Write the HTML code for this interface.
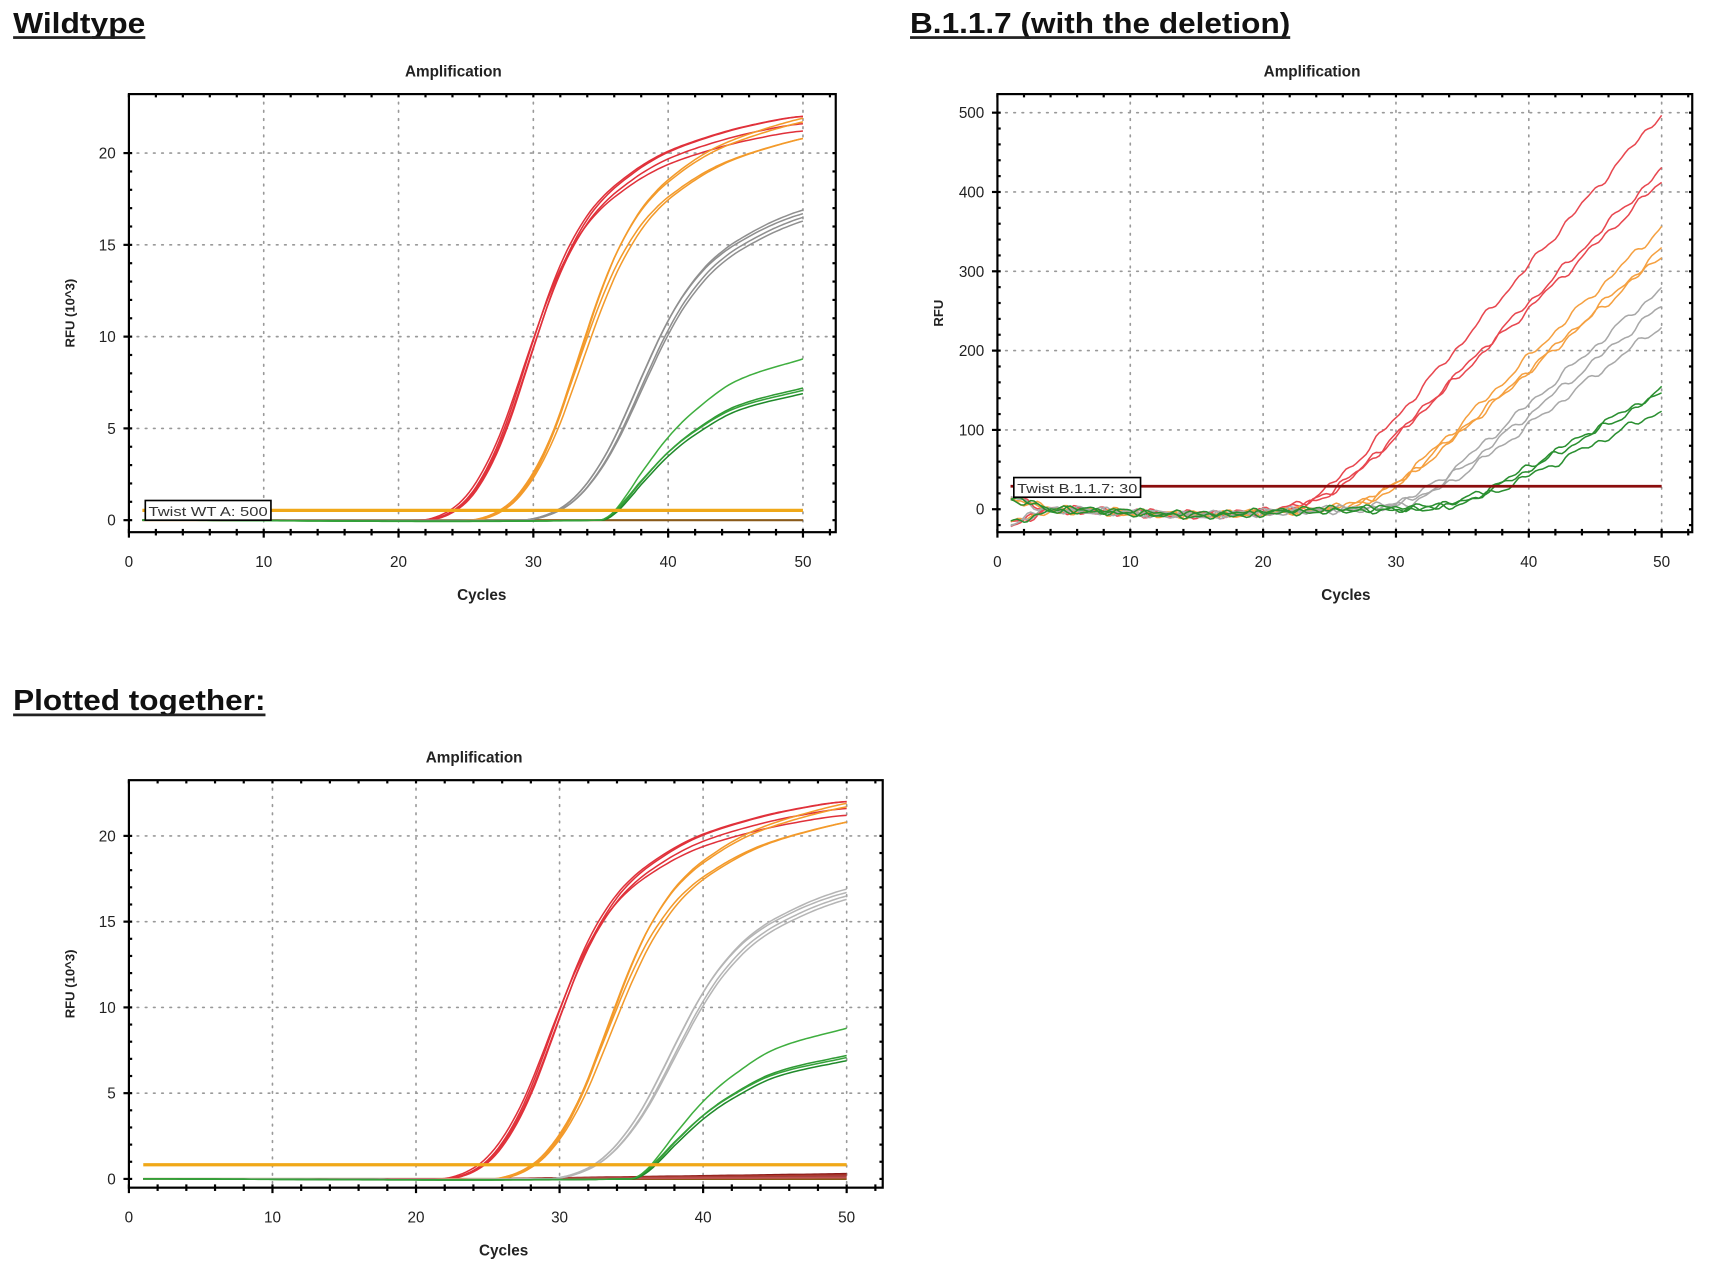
<!DOCTYPE html>
<html><head><meta charset="utf-8"><style>
html,body{margin:0;padding:0;background:#fff;}
svg{display:block;}
</style></head><body>
<svg id="s" xmlns="http://www.w3.org/2000/svg" width="1713" height="1261" viewBox="0 0 1568 1154" font-family="Liberation Sans, sans-serif">
<rect width="1568" height="1154" fill="#fff"/>
<g font-weight="bold" font-size="26" fill="#111">
<text x="12" y="30" textLength="121" lengthAdjust="spacingAndGlyphs">Wildtype</text>
<rect x="12" y="33" width="121" height="2.5" fill="#222"/>
<text x="833" y="30" textLength="348" lengthAdjust="spacingAndGlyphs">B.1.1.7 (with the deletion)</text>
<rect x="833" y="33" width="348" height="2.5" fill="#222"/>
<text x="12" y="650" textLength="231" lengthAdjust="spacingAndGlyphs">Plotted together:</text>
<rect x="12" y="653" width="231" height="2.5" fill="#222"/>
</g>
<g id="c"></g>
</svg>
<script>
const NS="http://www.w3.org/2000/svg";
const G=document.getElementById('c');
function el(t,a,p){const e=document.createElementNS(NS,t);for(const k in a)e.setAttribute(k,a[k]);(p||G).appendChild(e);return e;}
function txt(x,y,s,a){const e=el('text',Object.assign({x:x,y:y},a||{}));e.textContent=s;return e;}
function interp(pts,c){
 if(c<=pts[0][0])return pts[0][1];
 for(let i=0;i<pts.length-1;i++){const a=pts[i],b=pts[i+1];if(c<=b[0]){
  const p0=pts[Math.max(0,i-1)],p3=pts[Math.min(pts.length-1,i+2)];
  const t=(c-a[0])/(b[0]-a[0]);
  const m1=(b[1]-p0[1])/(b[0]-p0[0])*(b[0]-a[0]);const m2=(p3[1]-a[1])/(p3[0]-a[0])*(b[0]-a[0]);
  const t2=t*t,t3=t2*t;
  return (2*t3-3*t2+1)*a[1]+(t3-2*t2+t)*m1+(-2*t3+3*t2)*b[1]+(t3-t2)*m2;}}
 return pts[pts.length-1][1];}
const RED=[[0,0],[22,0],[23,0.15],[24,0.5],[25,1.1],[26,2.1],[27,3.5],[28,5.3],[29,7.5],[30,9.8],[31,12],[32,13.9],[33,15.4],[34,16.6],[35,17.5],[36,18.2],[38,19.3],[40,20.1],[43,20.9],[46,21.5],[50,22],[70,22.6]];
function chart(o){
 const {x0,x1,y0,y1,L,R,T,B,ymax,ystep,yminor,title,ylab,cyc,tx}=o;
 const X=c=>x0+(x1-x0)*c/50, Y=v=>y0+(y1-y0)*v/ymax;
 for(let c=10;c<=50;c+=10){if(X(c)<R-2)el('line',{x1:X(c),y1:T,x2:X(c),y2:B,stroke:'#999','stroke-width':1.5,'stroke-dasharray':'1.5 6','stroke-linecap':'round'});}
 for(let v=ystep;v<=ymax;v+=ystep){el('line',{x1:L,y1:Y(v),x2:R,y2:Y(v),stroke:'#999','stroke-width':1.5,'stroke-dasharray':'1.5 6','stroke-linecap':'round'});}
 for(let v=o.ymin;v<=ymax+1e-9;v+=yminor){const maj=Math.abs(v/ystep-Math.round(v/ystep))<1e-6;const y=Y(v);if(y<T||y>B)continue;
  el('line',{x1:L-(maj?5:0),y1:y,x2:L+3,y2:y,stroke:'#000','stroke-width':2});
  el('line',{x1:R-3,y1:y,x2:R,y2:y,stroke:'#000','stroke-width':2});
  if(maj)txt(L-12,y+5,String(Math.round(v)),{'font-size':14,'text-anchor':'end',fill:'#222'});}
 for(let c=0;c<=52;c+=2){const x=X(c);if(x>R)break;const maj=c%10==0;
  el('line',{x1:x,y1:B-3,x2:x,y2:B+(maj?5:3),stroke:'#000','stroke-width':2});
  el('line',{x1:x,y1:T,x2:x,y2:T+3,stroke:'#000','stroke-width':2});
  if(maj)txt(x,B+32,String(c),{'font-size':14,'text-anchor':'middle',fill:'#222'});}
 el('rect',{x:L,y:T,width:R-L,height:B-T,fill:'none',stroke:'#000','stroke-width':2});
 txt(tx,T-16,title,{'font-size':14,'font-weight':'bold','text-anchor':'middle',fill:'#222'});
 txt(cyc,B+62,'Cycles',{'font-size':14,'font-weight':'bold','text-anchor':'middle',fill:'#222'});
 txt(0,0,ylab,{'font-size':12,'font-weight':'bold','text-anchor':'middle',fill:'#222',transform:`translate(${L-50},${(T+B)/2}) rotate(-90)`});
 return {X,Y};
}
function path(f,X,Y,col,w,c0,c1,g){let d='';for(let c=c0;c<=c1+1e-9;c+=0.25){d+=(d?'L':'M')+X(c).toFixed(1)+' '+Y(f(c)).toFixed(1);}
 el('path',{d:d,fill:'none',stroke:col,'stroke-width':w||1.4,'stroke-linejoin':'round'},g);}
function sigmoidSet(X,Y,gray){
 const g=el('g',{});
 const sets=[
  {col:'#e0313a',list:[[0,22,1],[0.2,22,1],[-0.2,21.2,1.02],[0.1,21.6,1.01]]},
  {col:'#f39a2a',list:[[3.9,21.9,1.03],[3.8,20.8,1.07],[4.1,20.8,1.08],[3.8,21.7,1.03]]},
  {col:gray,list:[[8.3,16.9,1.15],[8.5,16.5,1.15],[8.2,16.7,1.13],[8.6,16.3,1.17]]}];
 for(const s of sets)for(const [sh,M,st] of s.list){
  const tr=c=>30+(c-30-sh)/st; const k=M/interp(RED,tr(50));
  path(c=>interp(RED,tr(c))*k,X,Y,s.col,1.4,1,50,g);}
 const GR=[[0,0],[35,0],[36,0.4],[37,1.2],[38,2.1],[40,3.7],[42,4.9],[45,6.2],[50,7.2],[60,9]];
 [[0,1.22,'#3fae3f'],[0,1.0,'#2f9a34'],[0.1,0.96,'#1f8a2a'],[-0.1,0.98,'#35a23a']].forEach(([sh,k,col])=>path(c=>interp(GR,c-sh)*k,X,Y,col,1.4,1,50,g));
 return g;
}
let A=chart({x0:118,x1:735,y0:476,y1:140,L:118,R:765,T:86,B:487,ymax:20,ymin:0,ystep:5,yminor:1,title:'Amplification',ylab:'RFU (10^3)',cyc:441,tx:415});
el('line',{x1:A.X(1),y1:476,x2:A.X(50),y2:476,stroke:'#8a5a1a','stroke-width':2});
sigmoidSet(A.X,A.Y,'#8f8f8f');
el('line',{x1:A.X(1),y1:467,x2:A.X(50),y2:467,stroke:'#f0a818','stroke-width':3});
el('rect',{x:133,y:458,width:115,height:18,fill:'#fff',stroke:'#000','stroke-width':1.5});
txt(136,472,'Twist WT A: 500',{'font-size':12,fill:'#333',textLength:109,lengthAdjust:'spacingAndGlyphs'});
let Bc=chart({x0:913,x1:1521,y0:466,y1:103,L:913,R:1549,T:86,B:487,ymax:500,ymin:-20,ystep:100,yminor:20,title:'Amplification',ylab:'RFU',cyc:1232,tx:1201});
{const g=el('g',{});
 function sp(x){return Math.log(1+Math.exp(x));}
 function noise(c,k){return 4*Math.sin(c*1.7+k*2.3)+3*Math.sin(c*3.1+k)+2*Math.sin(c*5.3+k*1.1);}
 function base(c,k){let b=-7*Math.exp(-Math.pow((c-15)/7,2))+noise(c,k)*0.7;if(c<4)b+=(k%2?-18:14)*(4-c)/3;return b;}
 const sets=[['#e8474f',[[24,19.2],[24.5,16.8],[24.3,16.1]]],['#f5a040',[[28.3,16.4],[28.5,15.2],[28.1,14.6]]],['#a8a8a8',[[31,14.7],[31.3,13.7],[31.6,12.6]]],['#2a8f30',[[34.6,9.8],[34.8,9.6],[35,8.3]]]];
 let k=0;for(const [col,l] of sets)for(const [s,m] of l){k++;const kk=k;path(c=>base(c,kk)+m*1.4*sp((c-s)/1.4),Bc.X,Bc.Y,col,1.4,1,50,g);}
}
el('line',{x1:925,y1:445,x2:1521,y2:445,stroke:'#8b0d0d','stroke-width':2.5});
el('rect',{x:928,y:437,width:116,height:18,fill:'#fff',stroke:'#000','stroke-width':1.5});
txt(931,451,'Twist B.1.1.7: 30',{'font-size':12,fill:'#333',textLength:110,lengthAdjust:'spacingAndGlyphs'});
let C=chart({x0:118,x1:775,y0:1079,y1:765,L:118,R:808,T:714,B:1087,ymax:20,ymin:0,ystep:5,yminor:1,title:'Amplification',ylab:'RFU (10^3)',cyc:461,tx:434});
el('line',{x1:C.X(1),y1:1079,x2:C.X(50),y2:1079,stroke:'#8a5a1a','stroke-width':2});
[['#8b1a1a',0.3],['#b23a2a',0.22],['#a04040',0.15],['#c05050',0.08]].forEach(([col,e])=>path(c=>e*Math.max(0,(c-25)/25),C.X,C.Y,col,1.6,1,50));
sigmoidSet(C.X,C.Y,'#b5b5b5');
el('line',{x1:C.X(1),y1:1066,x2:C.X(50),y2:1066,stroke:'#f0a818','stroke-width':3});
</script>
</body></html>
